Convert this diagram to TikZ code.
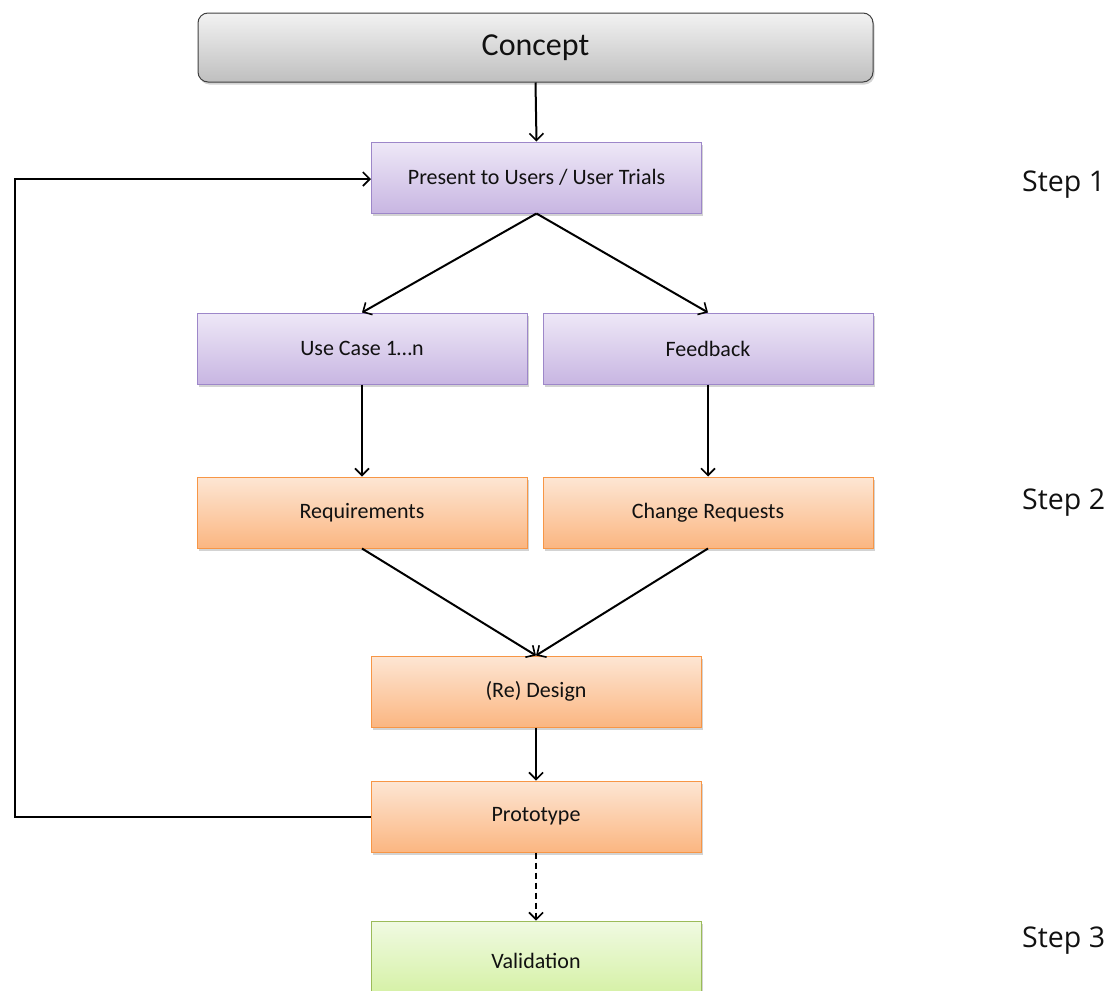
\documentclass[tikz,border=0pt]{standalone}
\usepackage{fontspec}
\setmainfont{Carlito}
\newfontfamily\stepfont{Open Sans}
\usetikzlibrary{arrows.meta,shadows}
\definecolor{purpTop}{HTML}{EEE8F7}
\definecolor{purpBot}{HTML}{C8B6E2}
\definecolor{purpLine}{HTML}{9D87C9}
\definecolor{orTop}{HTML}{FDE6D4}
\definecolor{orBot}{HTML}{FBB681}
\definecolor{orLine}{HTML}{F79646}
\definecolor{grTop}{HTML}{F0FAE2}
\definecolor{grBot}{HTML}{D3F0A0}
\definecolor{grLine}{HTML}{9BBB59}
\definecolor{gyTop}{HTML}{F2F2F2}
\definecolor{gyBot}{HTML}{BFBFBF}
\definecolor{txt}{HTML}{111111}
\tikzset{
  base/.style={draw, line width=1pt, minimum width=330pt, minimum height=71pt,
    inner sep=0pt, text=txt, font=\fontsize{22}{26}\selectfont,
    drop shadow={opacity=0.35, shadow xshift=1.5pt, shadow yshift=-2.5pt}},
  purpbox/.style={base, draw=purpLine, top color=purpTop, bottom color=purpBot},
  orbox/.style={base, draw=orLine, top color=orTop, bottom color=orBot},
  grbox/.style={base, draw=grLine, top color=grTop, bottom color=grBot},
  conbox/.style={draw=black!75, line width=1pt, rounded corners=10pt, minimum width=675pt,
    minimum height=69pt, inner sep=0pt, top color=gyTop, bottom color=gyBot,
    text=txt, font=\fontsize{32}{38}\selectfont,
    drop shadow={opacity=0.35, shadow xshift=1.5pt, shadow yshift=-2.5pt}},
  steplbl/.style={anchor=west, text=txt, font=\stepfont\fontsize{28.5}{34}\selectfont, inner sep=0pt},
  conn/.style={line width=2pt, -{Straight Barb[length=7pt,width=14pt,line width=1.6pt]}},
}
\begin{document}
\begin{tikzpicture}[x=1pt,y=-1pt]
\useasboundingbox (0,0) rectangle (1112,991);
\clip (0,0) rectangle (1112,991);
\node[conbox] (concept) at (535.5,47.5) {Concept};
\node[purpbox] (present) at (536.5,177.5) {Present to Users / User Trials};
\node[purpbox] (usecase) at (362,348.5) {Use Case 1\ldots n};
\node[purpbox] (feedback) at (708,348.5) {Feedback};
\node[orbox] (req) at (362,512.5) {Requirements};
\node[orbox] (cr) at (708,512.5) {Change Requests};
\node[orbox] (design) at (536,691.5) {(Re) Design};
\node[orbox] (proto) at (536,816.5) {Prototype};
\node[grbox, minimum height=80pt] (valid) at (536,961) {Validation};
\node[steplbl] (s1) at (1022,185) {Step 1};
\node[steplbl] (s2) at (1022,503) {Step 2};
\node[steplbl] (s3) at (1022,941) {Step 3};
\coordinate (loopB) at (15,816.5);
\coordinate (loopT) at (15,179);
\draw[conn] (concept.south) -- (present.north);
\draw[conn] (present.south) -- (usecase.north);
\draw[conn] (present.south) -- (feedback.north);
\draw[conn] (usecase.south) -- (req.north);
\draw[conn] (feedback.south) -- (cr.north);
\draw[conn] (req.south) -- (design.north);
\draw[conn] (cr.south) -- (design.north);
\draw[conn] (design.south) -- (proto.north);
\draw[conn, dashed, dash pattern=on 6pt off 4pt] (proto.south) -- (valid.north);
\draw[conn] (proto.west) -- (loopB) -- (loopT) -- (present.west |- loopT);
\end{tikzpicture}
\end{document}
